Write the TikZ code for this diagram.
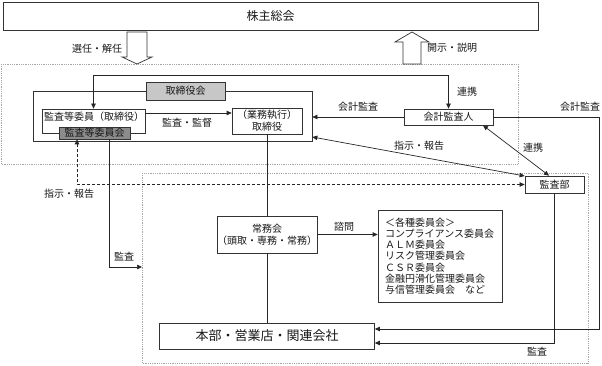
\documentclass[tikz,border=0pt]{standalone}
\usepackage{fontspec}
\setmainfont{Noto Sans CJK JP}
\usetikzlibrary{arrows.meta,calc}
\begin{document}
\begin{tikzpicture}[x=1pt,y=-1pt,
 every node/.style={font=\fontsize{10}{12}\selectfont, inner sep=0pt, text=black!90},
 box/.style={draw=black!80, line width=0.7pt, fill=white},
 region/.style={draw=black!35, densely dotted, line width=0.8pt},
 ln/.style={draw=black!85, line width=0.7pt},
 tip/.style={-{Triangle[length=5pt,width=4.5pt]}},
 tips/.style={{Triangle[length=5pt,width=4.5pt]}-{Triangle[length=5pt,width=4.5pt]}},
 hollow/.style={draw=black!80, line width=0.7pt, fill=white}]
\useasboundingbox (0,0) rectangle (602,366);
% regions
\draw[region] (1,64) rectangle (518,164);
\draw[region] (142,173) rectangle (588,363);
% top box
\node[box, minimum width=535pt, minimum height=28pt, font=\fontsize{12}{14}\selectfont] (sh) at (270.5,16) {株主総会};
% hollow arrows
\draw[hollow] (127,32) -- (147,32) -- (147,57) -- (152,57) -- (137,64) -- (122,57) -- (127,57) -- cycle;
\draw[hollow] (403,64) -- (403,42) -- (395,42) -- (412,32) -- (429,42) -- (421,42) -- (421,64) -- cycle;
\node (l1) at (97,49) {選任・解任};
\node (l2) at (452,48) {開示・説明};
% board
\node[box, minimum width=279pt, minimum height=50pt] (bb) at (172.5,116) {};
\node[box, fill=black!22, minimum width=79pt, minimum height=18pt] (tk) at (185.5,91) {取締役会};
\node[box, minimum width=103pt, minimum height=24pt] (ki) at (93.5,121) {};
\node (kit) at (94,116.5) {監査等委員（取締役）};
\node[box, fill=black!45, minimum width=71pt, minimum height=12pt] (kk) at (94.5,133) {監査等委員会};
\node[box, minimum width=70pt, minimum height=26pt, align=center] (gs) at (267,121) {（業務執行）\\取締役};
\node[box, minimum width=89pt, minimum height=16pt] (ka) at (448.5,117) {会計監査人};
\node[box, minimum width=59pt, minimum height=17pt] (kb) at (554.5,184.5) {監査部};
\node[box, minimum width=93pt, minimum height=37pt, align=center] (jm) at (267,234.5) {常務会\\（頭取・専務・常務）};
\node[box, minimum width=124pt, minimum height=92pt, align=left, text width=110pt, inner xsep=7pt, font=\fontsize{10}{11.2}\selectfont] (ik) at (440,256) {＜各種委員会＞\\コンプライアンス委員会\\ＡＬＭ委員会\\リスク管理委員会\\ＣＳＲ委員会\\金融円滑化管理委員会\\与信管理委員会　など};
\node[box, minimum width=215pt, minimum height=26pt, font=\fontsize{13}{15}\selectfont] (hb) at (267,336) {本部・営業店・関連会社};
% coordinates
\coordinate (y75) at (0,75);
\coordinate (y113) at (0,113);
\coordinate (rc) at (599,117);
\coordinate (y329) at (0,329);
\coordinate (y343) at (0,343);
\coordinate (x77) at (77,0);
\coordinate (x109) at (109,0);
\coordinate (la) at (142,267);
% connectors
\draw[ln,tips] (ki.north) -- (ki.north |- y75) -| (ka.north);
\node (l3) at (467,92) {連携};
\draw[ln,tip] (ki.east |- y113) -- (gs.west |- y113);
\node (l4) at (187,123) {監査・監督};
\draw[ln,tip] (ka.west) -- (bb.east |- ka.west);
\node (l5) at (358,107) {会計監査};
\draw[ln,tip] (ka.east) -- (rc) -- (rc |- y329) -- (hb.east |- y329);
\node (l6) at (580,107) {会計監査};
\draw[ln,tips] ($(ka.south)+(34.5,0)$) -- ($(kb.north)+(-5.5,0)$);
\node (l7) at (533,148) {連携};
\draw[ln,tips] ($(bb.east)+(0,21)$) -- ($(kb.west)+(0,-8.5)$);
\node (l8) at (419,146) {指示・報告};
\draw[ln,tips,dash pattern=on 3pt off 2pt] (kb.west) -- (kb.west -| x77) -- (x77 |- kk.south);
\node (l9) at (69,194) {指示・報告};
\draw[ln,tip] (kk.south -| x109) -- (x109 |- la) -- (la);
\node (l10) at (124,257) {監査};
\draw[ln] (gs.south) -- (jm.north);
\draw[ln] (jm.south) -- (hb.north);
\draw[ln,tip] (jm.east) -- (ik.west |- jm.east);
\node (l11) at (344,227) {諮問};
\draw[ln,tip] (kb.south) -- (kb.south |- y343) -- (hb.east |- y343);
\node (l12) at (537,352) {監査};
\end{tikzpicture}
\end{document}
